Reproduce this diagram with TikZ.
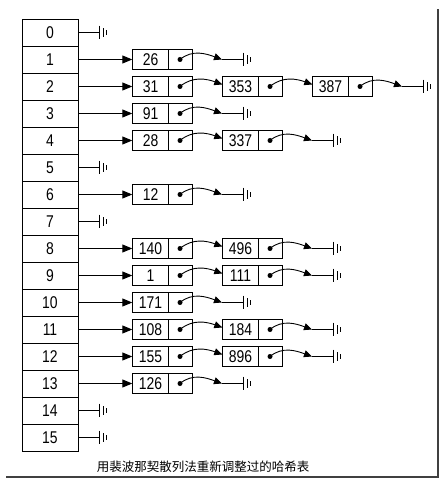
\documentclass[tikz,border=0pt]{standalone}
\usepackage{fontspec}
\setmainfont{Liberation Sans}
\newfontfamily\digits[FakeStretch=0.82]{Liberation Sans}
\newfontfamily\cjk{Noto Sans CJK SC}
\usetikzlibrary{arrows.meta,positioning}

\begin{document}
\begin{tikzpicture}[x=1pt,y=-1pt,
          numfont/.style={font=\digits\fontsize{17}{19}\selectfont},
          hashtable/.style={minimum width=56pt,minimum height=27pt,inner sep=0pt,node distance=27pt,numfont},
          hash/.style={draw,rectangle,line width=0.9pt,hashtable},
          cell/.style={draw,rectangle,line width=0.9pt,minimum width=35.5pt,minimum height=20pt,inner sep=0pt,numfont},
          first/.style={cell,node distance=100.5pt},
          list/.style={cell,node distance=60.5pt},
          ptr/.style={cell,minimum width=24pt,node distance=29.5pt},
          tail/.style={node distance=42pt},
          gnd/.style={inner sep=0pt,minimum width=6pt,minimum height=13pt,node distance=67pt,
            append after command={
              (\tikzlastnode.north west) edge[line width=1pt] (\tikzlastnode.south west)
              ([yshift=-2.5pt]\tikzlastnode.north) edge ([yshift=2.5pt]\tikzlastnode.south)
              ([yshift=-4.5pt]\tikzlastnode.north east) edge ([yshift=4.5pt]\tikzlastnode.south east)}},
          nul/.style={gnd,node distance=53pt},
          main/.style={line width=1pt,-{Triangle[length=10pt,width=8pt]}},
          link/.style={line width=0.9pt,out=40,in=160,-{Triangle[length=8pt,width=7pt]}},
          every path/.style={line width=0.9pt}
        ]
        \useasboundingbox (0,0) rectangle (439,478);

        \node[hash] (h0) at (50,32.5) {0};
        \node[below of = h0,hash] (h1) {1};
        \node[below of = h1,hash] (h2) {2};
        \node[below of = h2,hash] (h3) {3};
        \node[below of = h3,hash] (h4) {4};
        \node[below of = h4,hash] (h5) {5};
        \node[below of = h5,hash] (h6) {6};
        \node[below of = h6,hash] (h7) {7};
        \node[below of = h7,hash] (h8) {8};
        \node[below of = h8,hash] (h9) {9};
        \node[below of = h9,hash] (h10) {10};
        \node[below of = h10,hash] (h11) {11};
        \node[below of = h11,hash] (h12) {12};
        \node[below of = h12,hash] (h13) {13};
        \node[below of = h13,hash] (h14) {14};
        \node[below of = h14,hash] (h15) {15};

        %empty buckets
        \node[right of = h0,nul] (g0) {};
        \node[right of = h5,nul] (g5) {};
        \node[right of = h7,nul] (g7) {};
        \node[right of = h14,nul] (g14) {};
        \node[right of = h15,nul] (g15) {};
        \path
        (h0) edge (g0)
        (h5) edge (g5)
        (h7) edge (g7)
        (h14) edge (g14)
        (h15) edge (g15)
        ;

        %bucket 1
        \node[right of = h1,first] (v1a) {26};
        \node[right of = v1a,ptr] (p1a) {};
        \coordinate[right of = p1a,tail] (e1);
        \node[right of = p1a,gnd] (g1) {};
        \path
        (h1) edge[main] (v1a)
        (p1a.center) edge[link] (e1)
        (e1) edge (g1)
        ;

        %bucket 2
        \node[right of = h2,first] (v2a) {31};
        \node[right of = v2a,ptr] (p2a) {};
        \node[right of = p2a,list] (v2b) {353};
        \node[right of = v2b,ptr] (p2b) {};
        \node[right of = p2b,list] (v2c) {387};
        \node[right of = v2c,ptr] (p2c) {};
        \coordinate[right of = p2c,tail] (e2);
        \node[right of = p2c,gnd] (g2) {};
        \path
        (h2) edge[main] (v2a)
        (p2a.center) edge[link] ([yshift=2pt]v2b.west)
        (p2b.center) edge[link] ([yshift=2pt]v2c.west)
        (p2c.center) edge[link] (e2)
        (e2) edge (g2)
        ;

        %bucket 3
        \node[right of = h3,first] (v3a) {91};
        \node[right of = v3a,ptr] (p3a) {};
        \coordinate[right of = p3a,tail] (e3);
        \node[right of = p3a,gnd] (g3) {};
        \path
        (h3) edge[main] (v3a)
        (p3a.center) edge[link] (e3)
        (e3) edge (g3)
        ;

        %bucket 4
        \node[right of = h4,first] (v4a) {28};
        \node[right of = v4a,ptr] (p4a) {};
        \node[right of = p4a,list] (v4b) {337};
        \node[right of = v4b,ptr] (p4b) {};
        \coordinate[right of = p4b,tail] (e4);
        \node[right of = p4b,gnd] (g4) {};
        \path
        (h4) edge[main] (v4a)
        (p4a.center) edge[link] ([yshift=2pt]v4b.west)
        (p4b.center) edge[link] (e4)
        (e4) edge (g4)
        ;

        %bucket 6
        \node[right of = h6,first] (v6a) {12};
        \node[right of = v6a,ptr] (p6a) {};
        \coordinate[right of = p6a,tail] (e6);
        \node[right of = p6a,gnd] (g6) {};
        \path
        (h6) edge[main] (v6a)
        (p6a.center) edge[link] (e6)
        (e6) edge (g6)
        ;

        %bucket 8
        \node[right of = h8,first] (v8a) {140};
        \node[right of = v8a,ptr] (p8a) {};
        \node[right of = p8a,list] (v8b) {496};
        \node[right of = v8b,ptr] (p8b) {};
        \coordinate[right of = p8b,tail] (e8);
        \node[right of = p8b,gnd] (g8) {};
        \path
        (h8) edge[main] (v8a)
        (p8a.center) edge[link] ([yshift=2pt]v8b.west)
        (p8b.center) edge[link] (e8)
        (e8) edge (g8)
        ;

        %bucket 9
        \node[right of = h9,first] (v9a) {1};
        \node[right of = v9a,ptr] (p9a) {};
        \node[right of = p9a,list] (v9b) {111};
        \node[right of = v9b,ptr] (p9b) {};
        \coordinate[right of = p9b,tail] (e9);
        \node[right of = p9b,gnd] (g9) {};
        \path
        (h9) edge[main] (v9a)
        (p9a.center) edge[link] ([yshift=2pt]v9b.west)
        (p9b.center) edge[link] (e9)
        (e9) edge (g9)
        ;

        %bucket 10
        \node[right of = h10,first] (v10a) {171};
        \node[right of = v10a,ptr] (p10a) {};
        \coordinate[right of = p10a,tail] (e10);
        \node[right of = p10a,gnd] (g10) {};
        \path
        (h10) edge[main] (v10a)
        (p10a.center) edge[link] (e10)
        (e10) edge (g10)
        ;

        %bucket 11
        \node[right of = h11,first] (v11a) {108};
        \node[right of = v11a,ptr] (p11a) {};
        \node[right of = p11a,list] (v11b) {184};
        \node[right of = v11b,ptr] (p11b) {};
        \coordinate[right of = p11b,tail] (e11);
        \node[right of = p11b,gnd] (g11) {};
        \path
        (h11) edge[main] (v11a)
        (p11a.center) edge[link] ([yshift=2pt]v11b.west)
        (p11b.center) edge[link] (e11)
        (e11) edge (g11)
        ;

        %bucket 12
        \node[right of = h12,first] (v12a) {155};
        \node[right of = v12a,ptr] (p12a) {};
        \node[right of = p12a,list] (v12b) {896};
        \node[right of = v12b,ptr] (p12b) {};
        \coordinate[right of = p12b,tail] (e12);
        \node[right of = p12b,gnd] (g12) {};
        \path
        (h12) edge[main] (v12a)
        (p12a.center) edge[link] ([yshift=2pt]v12b.west)
        (p12b.center) edge[link] (e12)
        (e12) edge (g12)
        ;

        %bucket 13
        \node[right of = h13,first] (v13a) {126};
        \node[right of = v13a,ptr] (p13a) {};
        \coordinate[right of = p13a,tail] (e13);
        \node[right of = p13a,gnd] (g13) {};
        \path
        (h13) edge[main] (v13a)
        (p13a.center) edge[link] (e13)
        (e13) edge (g13)
        ;

        %pointer dots
        \fill (p1a) circle (2.5pt) (p2a) circle (2.5pt) (p2b) circle (2.5pt) (p2c) circle (2.5pt)
              (p3a) circle (2.5pt) (p4a) circle (2.5pt) (p4b) circle (2.5pt) (p6a) circle (2.5pt)
              (p8a) circle (2.5pt) (p8b) circle (2.5pt) (p9a) circle (2.5pt) (p9b) circle (2.5pt)
              (p10a) circle (2.5pt) (p11a) circle (2.5pt) (p11b) circle (2.5pt)
              (p12a) circle (2.5pt) (p12b) circle (2.5pt) (p13a) circle (2.5pt);

        %caption and frame
        \node (cap) at (203,467) {\cjk\fontsize{12.5}{14}\selectfont 用裴波那契散列法重新调整过的哈希表};
        \draw[line width=1.6pt,black!75] (6,477.2) -- (437.8,477.2) -- (437.8,9);
    \end{tikzpicture}
\end{document}
